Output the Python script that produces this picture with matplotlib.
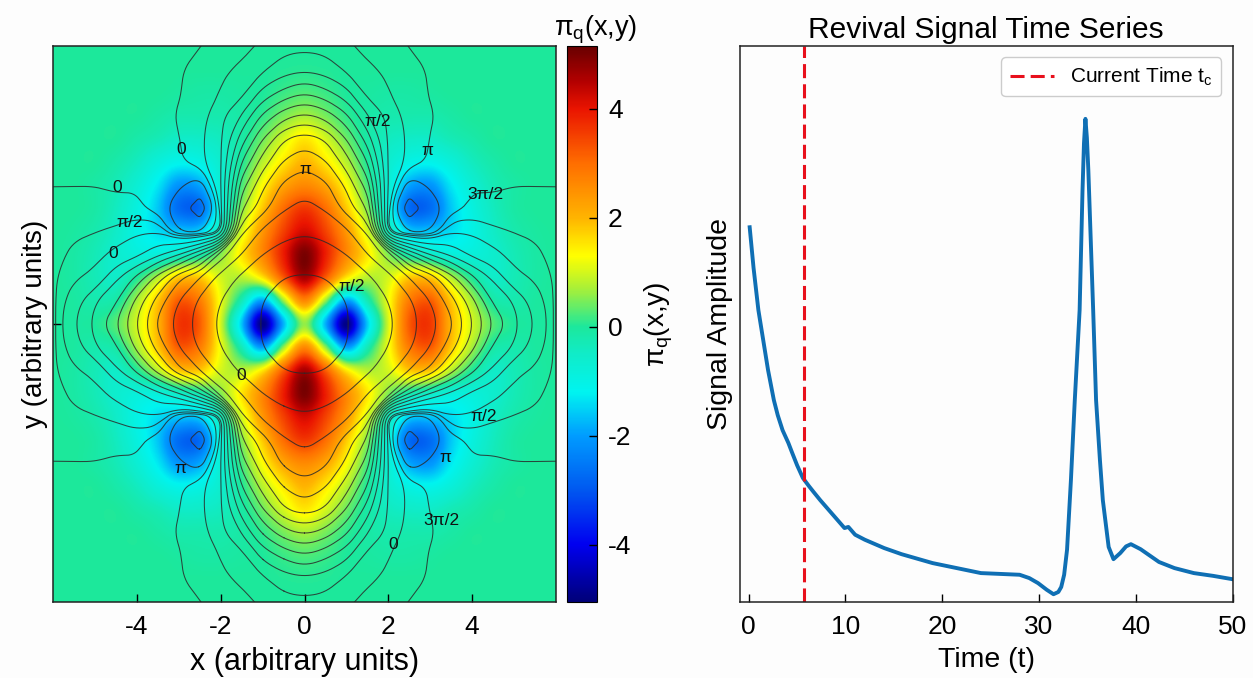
import numpy as np
import matplotlib
matplotlib.use('Agg')
import matplotlib.pyplot as plt
from matplotlib.colors import LinearSegmentedColormap, Normalize
from matplotlib.cm import ScalarMappable

plt.rcParams['font.family'] = ['Liberation Sans', 'DejaVu Sans']
plt.rcParams['mathtext.fontset'] = 'custom'
plt.rcParams['mathtext.rm'] = 'Liberation Sans'
plt.rcParams['mathtext.it'] = 'Liberation Sans'
plt.rcParams['mathtext.default'] = 'regular'
plt.rcParams['axes.unicode_minus'] = False

# grid, one quadrant (x, y >= 0), 0.5 steps
grid = [0, 0.5, 1, 1.5, 2, 2.5, 3, 3.5, 4, 4.5, 5, 5.5, 6]
field = [
    [0.6, -1.8, -4.9, -1.6, 1.0, 3.2, 3.6, 2.0, 1.0, 0.3, 0, -0.05, 0],
    [2.6, 0.6, -2.0, -0.3, 1.2, 2.8, 3.2, 1.8, 0.7, -0.1, -0.2, -0.05, 0],
    [4.6, 3.2, 1.5, 0.8, 1.0, 1.8, 1.8, 0.8, 0, -0.5, -0.3, -0.1, 0],
    [5.0, 3.9, 2.6, 1.5, 0.5, -0.2, -0.5, -0.8, -0.8, -0.6, -0.3, -0.1, 0],
    [4.2, 3.5, 2.4, 1.0, -0.3, -1.5, -1.6, -1.4, -1.0, -0.5, -0.2, -0.05, 0],
    [3.6, 3.0, 1.8, 0.5, -0.8, -2.7, -2.7, -1.6, -0.9, -0.4, -0.1, 0, 0],
    [2.6, 2.2, 1.3, 0.2, -0.7, -1.9, -2.1, -1.3, -0.7, -0.3, -0.1, 0, 0],
    [2.0, 1.5, 0.8, 0, -0.6, -1.0, -1.1, -0.8, -0.4, -0.15, 0, 0, 0],
    [1.5, 1.0, 0.4, -0.1, -0.4, -0.5, -0.5, -0.3, -0.15, 0, 0, 0, 0],
    [0.7, 0.45, 0.1, -0.1, -0.2, -0.2, -0.2, -0.1, 0, 0, 0, 0, 0],
    [0.25, 0.15, 0, -0.05, -0.1, -0.1, -0.05, 0, 0, 0, 0, 0, 0],
    [0.05, 0.03, 0, 0, 0, 0, 0, 0, 0, 0, 0, 0, 0],
    [0, 0, 0, 0, 0, 0, 0, 0, 0, 0, 0, 0, 0],
]
# second table, only for the thin contour lines
phase = [
    [15, 14, 13.05, 12.6, 12.2, 11.4, 10.4, 9.2, 7.1, 5, 3.3, 1.9, 0.3],
    [14, 13.7, 13, 12.5, 12, 11.2, 10, 8.5, 6.4, 3.9, 2.9, 1.5, 0.35],
    [13.1, 13, 12.7, 12.2, 11.4, 10, 8.8, 6.5, 4.3, 2.8, 1.2, 0.9, 0.4],
    [12.5, 12.4, 12, 11, 9.5, 6, 4, 2.8, 1.8, 1.2, 0.8, 0.6, 0.35],
    [11.9, 11.7, 11.2, 9.8, 0.5, -0.7, -0.5, 0.9, 0.85, 0.6, 0.48, 0.42, 0.3],
    [11.3, 10.9, 9.6, 7.8, 0.7, -3, -1, -0.1, 0.2, 0.2, 0.25, 0.25, 0.22],
    [10.6, 10.2, 8.8, 6.5, 1, -0.9, -0.4, -0.05, 0.05, 0.05, 0.09, 0.09, 0.09],
    [9.7, 9.1, 7.5, 5, 0.95, 0.35, 0.03, 0.02, 0, 0, 0, 0, 0],
    [8.5, 7.9, 6, 3.5, 0.9, 0.4, 0.09, 0.02, 0, 0, 0, 0, 0],
    [6.2, 5.6, 4.2, 2.1, 0.75, 0.35, 0.12, 0.03, 0, 0, 0, 0, 0],
    [3.9, 3.3, 2.3, 0.7, 0.52, 0.25, 0.08, 0.04, 0, 0, 0, 0, 0],
    [1.8, 1.5, 0.85, 0.55, 0.45, 0.2, 0.07, 0.02, 0, 0, 0, 0, 0],
    [0.75, 0.65, 0.55, 0.42, 0.25, 0.09, 0.05, 0, 0, 0, 0, 0, 0],
]
line_levels = [-2, -0.5, 0.1, 0.5, 1, 2, 3, 4, 5, 6, 7, 8, 9, 10, 11, 12, 13]

label_text = ['0', '0', 'π/2', '0', 'π/2', 'π', '3π/2', 'π', 'π/2', '0', 'π/2', 'π', '3π/2', '0', 'π']
label_x = [-2.95, -4.47, -4.16, -4.57, 1.75, 2.92, 4.31, 0.01, 1.13, -1.52, 4.28, 3.35, 3.26, 2.11, -2.95]
label_y = [3.76, 2.94, 2.18, 1.53, 4.38, 3.74, 2.79, 3.33, 0.80, -1.12, -1.99, -2.89, -4.25, -4.75, -3.11]

time = [0.1, 0.5, 1, 1.5, 2, 2.6, 3, 3.5, 4.1, 4.5, 5, 5.6, 6.2, 6.7, 7.4, 8.1, 9, 9.6, 9.9, 10.3, 11, 12,
        14, 15.8, 19, 24, 28, 29, 29.9, 30.8, 31.5, 32.0, 32.3, 32.6, 32.9, 33.3, 33.7, 34.2, 34.5, 34.65,
        34.8, 34.95, 35.1, 35.6, 35.9, 36.3, 36.6, 37.2, 37.7, 38.4, 39, 39.5, 40.5, 42.4, 44, 46, 48, 50]
signal = [.674, .601, .525, .471, .417, .363, .336, .309, .286, .268, .246, .223, .209, .198,
          .183, .169, .151, .139, .133, .135, .121, .112, .097, .086, .070, .052, .049, .043, .034, .022,
          .014, .018, .027, .049, .094, .219, .363, .525, .741, .825, .869, .835, .777, .525, .363, .255, .183,
          .099, .077, .088, .100, .104, .095, .072, .061, .052, .047, .041]
current_time = 5.7

cbar_values = [-5.05, -4, -3, -2, -1.2, -0.5, 0, 0.7, 1.3, 2, 3, 4, 4.5, 5.15]
cbar_colors = ['#000078', '#0000f0', '#0058f0', '#009cff', '#00f4f0', '#10ecc8', '#1ce89c',
               '#a8f038', '#ffff00', '#ffb400', '#ff6e00', '#ea1400', '#b40000', '#680000']


def full(quadrant):
    q = np.array(quadrant, dtype=float)
    top = np.hstack([q[:, :0:-1], q])
    return np.vstack([top[:0:-1], top])


def smooth(pts, step=0.04, width=0.5):
    # rounds the coarse contour, moving average along its length
    closed = np.allclose(pts[0], pts[-1])
    d = np.r_[0, np.cumsum(np.hypot(*np.diff(pts, axis=0).T))]
    n = max(int(d[-1] / step), 8)
    s = np.linspace(0, d[-1], n)
    x = np.interp(s, d, pts[:, 0])
    y = np.interp(s, d, pts[:, 1])
    w = min(int(width / step), n // 6) | 1
    k = np.ones(w) / w
    pad = w // 2
    if closed:
        x2 = np.convolve(np.r_[x[-pad - 1:-1], x, x[1:pad + 1]], k, 'valid')
        y2 = np.convolve(np.r_[y[-pad - 1:-1], y, y[1:pad + 1]], k, 'valid')
    else:
        x2 = np.convolve(np.r_[2 * x[0] - x[pad:0:-1], x, 2 * x[-1] - x[-2:-pad - 2:-1]], k, 'valid')
        y2 = np.convolve(np.r_[2 * y[0] - y[pad:0:-1], y, 2 * y[-1] - y[-2:-pad - 2:-1]], k, 'valid')
    return x2, y2


xs = np.array(grid)
xs = np.concatenate([-xs[:0:-1], xs])
Z = full(field)
F = full(phase)

cmap = LinearSegmentedColormap.from_list(
    'bar', [((v - cbar_values[0]) / (cbar_values[-1] - cbar_values[0]), c)
            for v, c in zip(cbar_values, cbar_colors)], N=512)
norm = Normalize(cbar_values[0], cbar_values[-1])

W, H = 1253, 678
fig = plt.figure(figsize=(W / 100, H / 100), dpi=100, facecolor='#fdfdfd')


def box(x0, y0, x1, y1):
    return [x0 / W, 1 - y1 / H, (x1 - x0) / W, (y1 - y0) / H]


ax = fig.add_axes(box(53, 46, 556, 602))
ax.imshow(Z, extent=[-6.25, 6.25, -6.25, 6.25], origin='lower', cmap=cmap, norm=norm,
          aspect='auto', interpolation='catrom')
cs = ax.contour(xs, xs, F, levels=line_levels, linewidths=0)
for path in cs.get_paths():
    for seg in path.to_polygons(closed_only=False):
        if len(seg) > 2:
            lx, ly = smooth(seg)
            ax.plot(lx, ly, color='#2a2a2a', lw=0.75, alpha=0.85)
cs.remove()
for t, lx, ly in zip(label_text, label_x, label_y):
    ax.text(lx, ly, t, ha='center', va='center', fontsize=12.5, color='#111111')
ax.set_xlim(-6, 6)
ax.set_ylim(-6, 6)
ax.set_xticks([-4, -2, 0, 2, 4])
ax.set_yticks([0])
ax.set_yticklabels([''])
ax.tick_params(direction='in', length=6, width=1, labelsize=19, pad=9)
ax.set_xlabel('x (arbitrary units)', fontsize=22)
ax.set_ylabel('y (arbitrary units)', fontsize=20)
ax.xaxis.set_label_coords(0.5, -0.081)
ax.yaxis.set_label_coords(-0.010, 0.5)
for s in ax.spines.values():
    s.set_linewidth(1.1)
    s.set_color('#222222')

cax = fig.add_axes(box(567, 46, 597, 602))
cb = fig.colorbar(ScalarMappable(norm=norm, cmap=cmap), cax=cax)
cb.set_ticks([-4, -2, 0, 2, 4])
cb.ax.tick_params(direction='in', length=6, width=1, labelsize=19, pad=8)
cb.set_label(r'$\pi_q$(x,y)', fontsize=20)
cb.ax.yaxis.set_label_coords(2.53, 0.5)
cax.set_title(r'$\pi_q$(x,y)', fontsize=19.5, pad=6, x=0.97)

ax2 = fig.add_axes(box(740, 46, 1232.5, 602))
ax2.plot(time, signal, color='#0f6fb4', lw=2.8)
ax2.axvline(current_time, color='#e8101c', lw=2.2, dashes=(4.6, 2.0), label=r'Current Time t$_c$')
ax2.set_xlim(-0.9, 50)
ax2.set_ylim(0, 1)
ax2.set_xticks([0, 10, 20, 30, 40, 50])
ax2.set_yticks([])
ax2.set_facecolor('#fdfdfd')
ax2.tick_params(direction='in', length=6, width=1, labelsize=19, pad=9)
ax2.set_xlabel('Time (t)', fontsize=20.5)
ax2.set_ylabel('Signal Amplitude', fontsize=20.5)
ax2.xaxis.set_label_coords(0.5, -0.081)
ax2.yaxis.set_label_coords(-0.014, 0.5)
ax2.set_title('Revival Signal Time Series', fontsize=21.5, pad=6)
ax2.legend(loc='upper right', fontsize=15, fancybox=True, framealpha=1, edgecolor='#cccccc',
           borderaxespad=0.55, handlelength=2.1)
for s in ax2.spines.values():
    s.set_linewidth(1.1)
    s.set_color('#222222')

fig.savefig('out.png', dpi=100, facecolor=fig.get_facecolor())
